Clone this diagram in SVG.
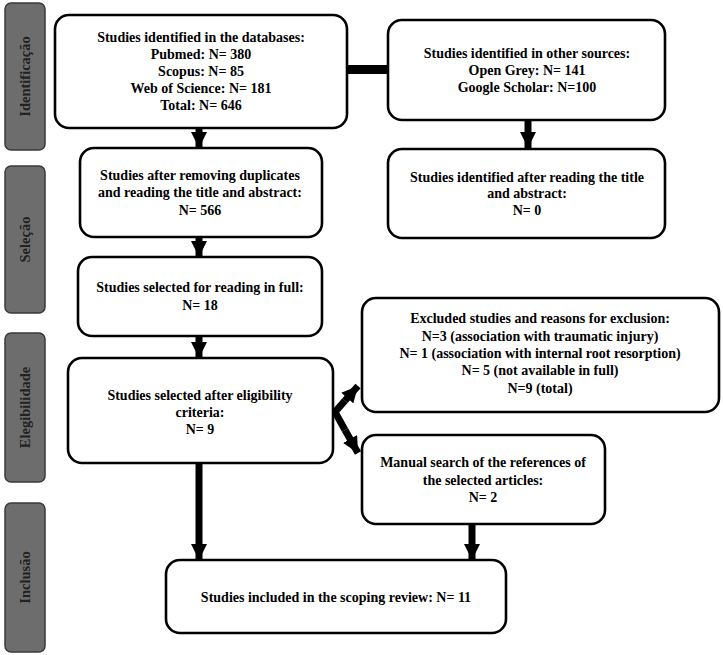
<svg xmlns="http://www.w3.org/2000/svg" width="723" height="655" viewBox="0 0 723 655">
<style>
.box{fill:#fff;stroke:#000;stroke-width:2.6}
.side{fill:#6d6d6d;stroke:#3a3a3a;stroke-width:1.5}
.t{font-family:"Liberation Serif","Times New Roman",serif;font-weight:bold;font-size:14px;fill:#000;text-anchor:middle}
.st{font-family:"Liberation Serif","Times New Roman",serif;font-weight:bold;font-size:14.5px;fill:#222;text-anchor:middle}
.sh{stroke:#000;stroke-width:7;fill:none}
</style>
<defs>
<marker id="ah" viewBox="0 0 10 10" refX="10" refY="5" markerWidth="2.3" markerHeight="2.3" orient="auto" markerUnits="strokeWidth">
<path d="M0,0 L10,5 L0,10 Z" fill="#000"/>
</marker>
</defs>
<rect width="723" height="655" fill="#fff"/>
<g id="side-labels">
<g id="lbl-identificacao"><rect class="side" x="5" y="3" width="40" height="147" rx="6"/><text class="st" transform="translate(30,76.5) rotate(-90)">Identificação</text></g>
<g id="lbl-selecao"><rect class="side" x="5" y="166" width="40" height="147" rx="6"/><text class="st" transform="translate(30,239.5) rotate(-90)">Seleção</text></g>
<g id="lbl-elegibilidade"><rect class="side" x="5" y="333" width="40" height="149" rx="6"/><text class="st" transform="translate(30,407.5) rotate(-90)">Elegibilidade</text></g>
<g id="lbl-inclusao"><rect class="side" x="5" y="503" width="40" height="149" rx="6"/><text class="st" transform="translate(30,577.5) rotate(-90)">Inclusão</text></g>
</g>
<g id="connectors">
<line x1="346" y1="69.5" x2="390" y2="69.5" stroke="#000" stroke-width="9"/>
<line class="sh" x1="199" y1="129" x2="199" y2="148" marker-end="url(#ah)"/>
<line class="sh" x1="528" y1="121" x2="528" y2="148" marker-end="url(#ah)"/>
<line class="sh" x1="199" y1="238" x2="199" y2="257" marker-end="url(#ah)"/>
<line class="sh" x1="199" y1="337" x2="199" y2="358" marker-end="url(#ah)"/>
<line class="sh" x1="199" y1="464" x2="199" y2="560" marker-end="url(#ah)"/>
<line class="sh" x1="472" y1="525" x2="472" y2="560" marker-end="url(#ah)"/>
<polyline class="sh" points="345,400.6 335,412 345,430" stroke-linejoin="miter"/>
<line class="sh" x1="345" y1="400.6" x2="358" y2="386" marker-end="url(#ah)"/>
<line class="sh" x1="345" y1="430" x2="358" y2="453" marker-end="url(#ah)"/>
</g>
<g id="n1"><rect class="box" x="55" y="15" width="292" height="113" rx="14"/>
<text class="t" x="201" y="42">Studies identified in the databases:</text>
<text class="t" x="201" y="59">Pubmed: N= 380</text>
<text class="t" x="201" y="76">Scopus: N= 85</text>
<text class="t" x="201" y="93">Web of Science: N= 181</text>
<text class="t" x="201" y="110">Total: N= 646</text></g>
<g id="n2"><rect class="box" x="388" y="20" width="277" height="100" rx="14"/>
<text class="t" x="527" y="58">Studies identified in other sources:</text>
<text class="t" x="527" y="75">Open Grey: N= 141</text>
<text class="t" x="527" y="92">Google Scholar: N=100</text></g>
<g id="n3"><rect class="box" x="80" y="148" width="242" height="89" rx="14"/>
<text class="t" x="200" y="180">Studies after removing duplicates</text>
<text class="t" x="200" y="197">and reading the title and abstract:</text>
<text class="t" x="200" y="215">N= 566</text></g>
<g id="n4"><rect class="box" x="388" y="149" width="277" height="89" rx="14"/>
<text class="t" x="527" y="182">Studies identified after reading the title</text>
<text class="t" x="527" y="198">and abstract:</text>
<text class="t" x="527" y="215">N= 0</text></g>
<g id="n5"><rect class="box" x="78" y="257" width="244" height="79" rx="14"/>
<text class="t" x="200" y="292">Studies selected for reading in full:</text>
<text class="t" x="200" y="310">N= 18</text></g>
<g id="n6"><rect class="box" x="68" y="358" width="265" height="105" rx="14"/>
<text class="t" x="200" y="400">Studies selected after eligibility</text>
<text class="t" x="200" y="417">criteria:</text>
<text class="t" x="200" y="434">N= 9</text></g>
<g id="n7"><rect class="box" x="362" y="298" width="357" height="114" rx="14"/>
<text class="t" x="540" y="323">Excluded studies and reasons for exclusion:</text>
<text class="t" x="540" y="341">N=3 (association with traumatic injury)</text>
<text class="t" x="540" y="358">N= 1 (association with internal root resorption)</text>
<text class="t" x="540" y="375">N= 5 (not available in full)</text>
<text class="t" x="540" y="393">N=9 (total)</text></g>
<g id="n8"><rect class="box" x="362" y="435" width="243" height="89" rx="14"/>
<text class="t" x="483" y="467">Manual search of the references of</text>
<text class="t" x="483" y="485">the selected articles:</text>
<text class="t" x="483" y="502">N= 2</text></g>
<g id="n9"><rect class="box" x="166" y="560" width="340" height="73" rx="14"/>
<text class="t" x="336" y="602">Studies included in the scoping review: N= 11</text></g>
</svg>
